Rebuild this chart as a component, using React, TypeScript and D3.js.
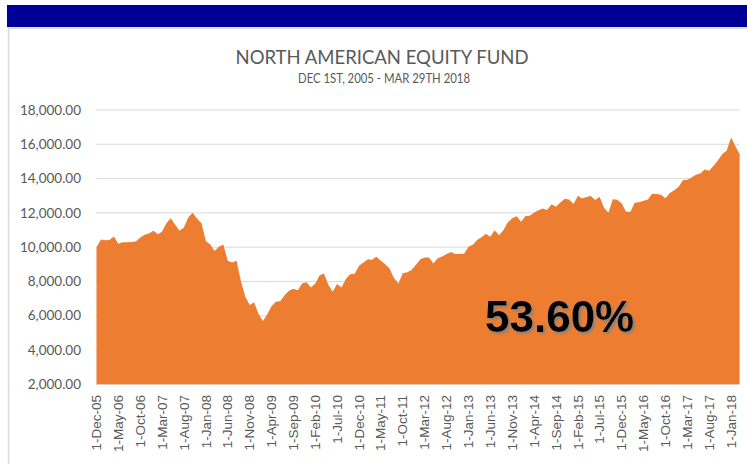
import React from "react";
import * as d3 from "d3";

const startMonth = "2005-12-01";
const navValues: number[] = [
  10000, 10450, 10400, 10420, 10620, 10200, 10280, 10290, 10300, 10330,
  10560, 10720, 10800, 10950, 10750, 10900, 11400, 11680, 11300, 10950,
  11150, 11750, 12000, 11650, 11400, 10350, 10150, 9780, 10030, 10160,
  9200, 9110, 9200, 8000, 7100, 6620, 6780, 6100, 5690, 6050,
  6550, 6820, 6850, 7200, 7450, 7570, 7480, 7890, 7950, 7650,
  7900, 8350, 8470, 7800, 7400, 7850, 7650, 8150, 8420, 8450,
  8920, 9100, 9300, 9260, 9440, 9200, 9000, 8750, 8200, 7880,
  8480, 8530, 8660, 8980, 9300, 9400, 9400, 9050, 9350, 9460,
  9600, 9720, 9600, 9600, 9620, 10020, 10150, 10420, 10580, 10780,
  10600, 10980, 10700, 11000, 11450, 11690, 11800, 11480, 11810, 11830,
  12000, 12150, 12260, 12160, 12500, 12350, 12600, 12830, 12780, 12520,
  13000, 12840, 12920, 12980, 12750, 12940, 12300, 12000, 12790, 12760,
  12560, 12070, 12060, 12590, 12620, 12700, 12780, 13120, 13100, 13050,
  12850, 13160, 13320, 13520, 13910, 13920, 14060, 14230, 14300, 14530,
  14460, 14750, 15050, 15440, 15620, 16400, 15850, 15430,
];
const xTickLabels: string[] = [
  "1-Dec-05", "1-May-06", "1-Oct-06", "1-Mar-07", "1-Aug-07", "1-Jan-08",
  "1-Jun-08", "1-Nov-08", "1-Apr-09", "1-Sep-09", "1-Feb-10", "1-Jul-10",
  "1-Dec-10", "1-May-11", "1-Oct-11", "1-Mar-12", "1-Aug-12", "1-Jan-13",
  "1-Jun-13", "1-Nov-13", "1-Apr-14", "1-Sep-14", "1-Feb-15", "1-Jul-15",
  "1-Dec-15", "1-May-16", "1-Oct-16", "1-Mar-17", "1-Aug-17", "1-Jan-18",
];
const yTicks: number[] = [2000, 4000, 6000, 8000, 10000, 12000, 14000, 16000, 18000];
const titleText = "NORTH AMERICAN EQUITY FUND";
const subtitleText = "DEC 1ST, 2005 - MAR 29TH 2018";
const returnLabel = "53.60%";

export default function App() {
  const W = 747, H = 464;
  const start = d3.timeParse("%Y-%m-%d")(startMonth) as Date;
  const data = navValues.map((v, i) => ({ date: d3.timeMonth.offset(start, i), value: v }));
  const parseTick = d3.timeParse("%d-%b-%y");

  const x = d3.scaleTime()
    .domain([data[0].date, data[data.length - 1].date])
    .range([96.5, 739.6]);
  const y = d3.scaleLinear().domain([2000, 18000]).range([384.3, 110]);

  const area = d3.area<{ date: Date; value: number }>()
    .x(d => x(d.date))
    .y0(y(2000))
    .y1(d => y(d.value));

  const fmt = d3.format(",.2f");

  return (
    <div style={{ position: "fixed", left: 0, top: 0 }}>
      <svg width={W} height={H} style={{ display: "block", background: "#fff" }}>
        <defs>
          <filter id="txtShadow" x="-10%" y="-20%" width="130%" height="150%">
            <feDropShadow dx={2} dy={2} stdDeviation={0.8} floodColor="#808080" floodOpacity={0.9} />
          </filter>
        </defs>
        <rect x={7} y={5} width={740} height={22} fill="#000099" />
        <line x1={8} x2={747} y1={28} y2={28} stroke="#d9d9d9" strokeWidth={1.5} />
        <line x1={8.5} x2={8.5} y1={28} y2={464} stroke="#d9d9d9" strokeWidth={1.5} />

        <text x={382} y={64} textAnchor="middle" fontFamily="Lato, 'Open Sans', sans-serif"
          fontSize={20} fill="#595959" textLength={293} lengthAdjust="spacingAndGlyphs">{titleText}</text>
        <text x={384} y={83} textAnchor="middle" fontFamily="Lato, 'Open Sans', sans-serif"
          fontSize={13} fill="#595959" textLength={172} lengthAdjust="spacingAndGlyphs">{subtitleText}</text>

        {yTicks.map(t => (
          <g key={t}>
            <line x1={96} x2={739.6} y1={y(t)} y2={y(t)} stroke="#d9d9d9" strokeWidth={1} />
            <text x={81} y={y(t)} dy="0.35em" textAnchor="end" fontFamily="Lato, sans-serif"
              fontSize={13.5} fill="#595959">{fmt(t)}</text>
          </g>
        ))}

        <path d={area(data) || ""} fill="#ED7D31" />

        {xTickLabels.map(lbl => {
          const d = parseTick(lbl) as Date;
          const px = x(d);
          return (
            <text key={lbl} transform={`translate(${px},395) rotate(-90)`} textAnchor="end"
              dy="0.35em" fontFamily="'Liberation Sans', Arial, sans-serif" fontSize={13.5}
              fill="#595959">{lbl}</text>
          );
        })}

        <text x={485} y={332} fontFamily="'Liberation Sans', Arial, sans-serif" fontWeight="bold"
          fontSize={44} fill="#000" filter="url(#txtShadow)">{returnLabel}</text>
      </svg>
    </div>
  );
}
